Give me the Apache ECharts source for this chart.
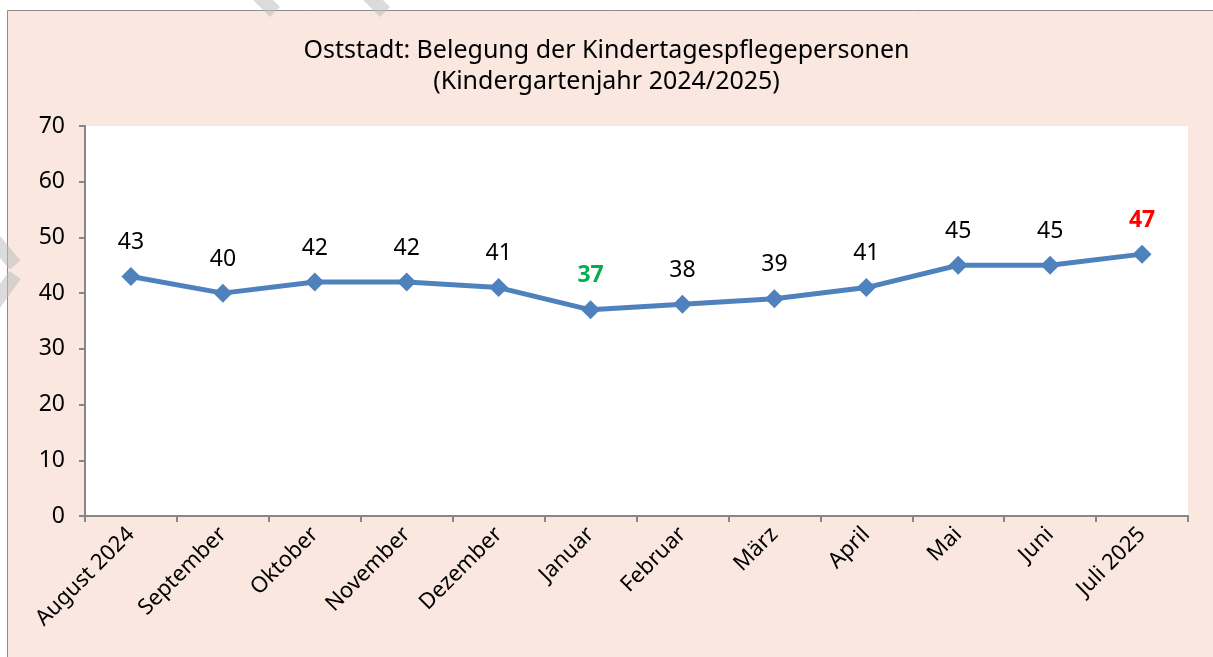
<!DOCTYPE html>
<html>
<head>
<meta charset="utf-8">
<script src="https://cdn.jsdelivr.net/npm/echarts@6/dist/echarts.min.js"></script>
<style>
html,body{margin:0;padding:0;background:#fff;}
#chart{width:1213px;height:657px;}
</style>
</head>
<body>
<div id="chart"></div>
<script>
var months = ['August 2024','September','Oktober','November','Dezember','Januar','Februar','März','April','Mai','Juni','Juli 2025'];
var belegung = [43,40,42,42,41,37,38,39,41,45,45,47];
var yTicks = [0,70,10];

var chart = echarts.init(document.getElementById('chart'));

// Min gruen, Max rot hervorheben
var minVal = Math.min.apply(null, belegung);
var maxVal = Math.max.apply(null, belegung);
var seriesData = belegung.map(function (v) {
    var lbl = {};
    if (v === minVal) {
        lbl = {color:'#00b050', fontWeight:'bold'};
    } else if (v === maxVal) {
        lbl = {color:'#ff0000', fontWeight:'bold'};
    }
    return {value:v, label:lbl};
});

var option = {
    backgroundColor:'#ffffff',
    animation:false,
    graphic:[
        {type:'rect', z:-10, shape:{x:7.5, y:10.5, width:1220, height:660},
            style:{fill:'#f9e7e0', stroke:'#8c8c8c', lineWidth:1}},
        // Wasserzeichen-Streifen
        {type:'line', z:-5, shape:{x1:255, y1:-8, x2:275, y2:12}, style:{stroke:'rgba(190,190,190,0.55)', lineWidth:14}},
        {type:'line', z:-5, shape:{x1:365, y1:-8, x2:385, y2:12}, style:{stroke:'rgba(190,190,190,0.55)', lineWidth:14}},
        {type:'line', z:-5, shape:{x1:-10, y1:235, x2:15, y2:265}, style:{stroke:'rgba(190,190,190,0.55)', lineWidth:14}},
        {type:'line', z:-5, shape:{x1:15, y1:275, x2:-10, y2:310}, style:{stroke:'rgba(190,190,190,0.55)', lineWidth:14}}
    ],
    title:{
        text:'Oststadt: Belegung der Kindertagespflegepersonen\n(Kindergartenjahr 2024/2025)',
        left:'center',
        top:30,
        textStyle:{
            color:'#000',
            fontSize:25,
            fontWeight:'normal',
            fontFamily:'Noto Sans',
            lineHeight:31
        }
    },
    grid:{
        left:85, right:25, top:126, bottom:141,
        show:true, backgroundColor:'#ffffff', borderWidth:0
    },
    xAxis:{
        type:'category',
        data:months,
        boundaryGap:true,
        axisLine:{lineStyle:{color:'#868686', width:2}},
        axisTick:{show:true, alignWithLabel:false, length:6, lineStyle:{color:'#868686', width:2}},
        axisLabel:{
            interval:0,
            rotate:45,
            margin:15,
            fontSize:22,
            color:'#000',
            fontFamily:'Noto Sans'
        },
        splitLine:{show:false}
    },
    yAxis:{
        type:'value',
        min:yTicks[0],
        max:yTicks[1],
        interval:yTicks[2],
        axisLine:{show:true, lineStyle:{color:'#868686', width:2}},
        axisTick:{show:true, length:6, lineStyle:{color:'#868686', width:2}},
        axisLabel:{fontSize:23, color:'#000', margin:20, fontFamily:'Noto Sans'},
        splitLine:{show:false}
    },
    series:[{
        type:'line',
        data:seriesData,
        symbol:'diamond',
        symbolSize:19,
        lineStyle:{color:'#4f81bd', width:5},
        itemStyle:{color:'#4f81bd'},
        label:{
            show:true,
            position:'top',
            distance:13,
            fontSize:23,
            color:'#000',
            fontFamily:'Noto Sans'
        }
    }]
};
chart.setOption(option);
</script>
</body>
</html>
